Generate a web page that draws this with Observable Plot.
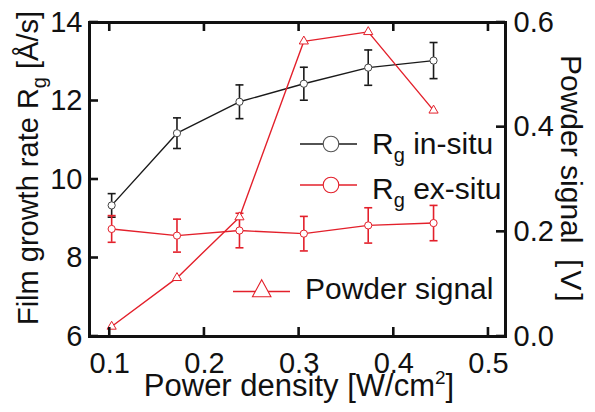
<!DOCTYPE html>
<html>
<head>
<meta charset="utf-8">
<script src="https://cdn.jsdelivr.net/npm/d3@7"></script>
<script src="https://cdn.jsdelivr.net/npm/@observablehq/plot@0.6"></script>
<style>
  body { margin: 0; background: #fff; }
  #chart { width: 595px; height: 412px; position: relative; }
  svg { font-family: "Liberation Sans", Arial, sans-serif; }
</style>
</head>
<body>
<div id="chart"></div>
<script>
// ---- data ----
const powerDensity = [0.102, 0.171, 0.237, 0.305, 0.373, 0.442];
const rgInSitu     = [9.34, 11.18, 11.98, 12.44, 12.85, 13.03];
const rgInSituErr  = [0.30, 0.39, 0.43, 0.42, 0.45, 0.46];
const rgExSitu     = [8.74, 8.57, 8.70, 8.62, 8.83, 8.89];
const rgExSituErr  = [0.34, 0.42, 0.44, 0.44, 0.45, 0.45];
const powderSignal = [0.019, 0.112, 0.228, 0.564, 0.582, 0.432];

const xTicks      = [0.1, 0.2, 0.3, 0.4, 0.5];
const yLeftTicks  = [6, 8, 10, 12, 14];
const yRightTicks = [0.0, 0.2, 0.4, 0.6];
const xDomain = [0.0786, 0.518];
const yLeftDomain = [6, 14];
const yRightDomain = [0, 0.6];

const RED = "#e3202b";
const BLACK = "#1a1a1a";

// map right-axis values onto the left scale
const toLeft = v => yLeftDomain[0] + (v - yRightDomain[0]) * (yLeftDomain[1] - yLeftDomain[0]) / (yRightDomain[1] - yRightDomain[0]);
const fromLeft = v => yRightDomain[0] + (v - yLeftDomain[0]) * (yRightDomain[1] - yRightDomain[0]) / (yLeftDomain[1] - yLeftDomain[0]);

const inSitu = powerDensity.map((x, i) => ({x, y: rgInSitu[i], e: rgInSituErr[i]}));
const exSitu = powerDensity.map((x, i) => ({x, y: rgExSitu[i], e: rgExSituErr[i]}));
const powder = powerDensity.map((x, i) => ({x, y: toLeft(powderSignal[i])}));

const capSymbol = {
  draw(context, size) {
    const w = Math.sqrt(size / Math.PI);
    context.moveTo(-w, 0);
    context.lineTo(w, 0);
  }
};
const caps = rows => rows.flatMap(d => [{x: d.x, y: d.y - d.e}, {x: d.x, y: d.y + d.e}]);

const W = 595, H = 412;
const M = {left: 89, right: 90, top: 22, bottom: 76};
const TICK = 9;
const fontSize = 29;

const chart = Plot.plot({
  width: W,
  height: H,
  marginLeft: M.left,
  marginRight: M.right,
  marginTop: M.top,
  marginBottom: M.bottom,
  style: {fontFamily: '"Liberation Sans", Arial, sans-serif', fontSize: fontSize + "px", color: "#111", background: "#fff"},
  x: {domain: xDomain},
  y: {domain: yLeftDomain},
  marks: [
    Plot.frame({stroke: "#111", strokeWidth: 3, fill: "none"}),
    // tick labels
    Plot.axisX(xTicks, {anchor: "bottom", tickSize: 0, tickPadding: 16, label: null, tickFormat: d => d.toFixed(1), fontSize}),
    Plot.axisY(yLeftTicks, {anchor: "left", tickSize: 0, tickPadding: 7, label: null, tickFormat: d => String(d), fontSize}),
    Plot.axisY(yRightTicks.map(toLeft), {anchor: "right", tickSize: 0, tickPadding: 8, label: null, tickFormat: v => fromLeft(v).toFixed(1), fontSize}),

    // in-situ growth rate
    Plot.ruleX(inSitu, {x: "x", y1: d => d.y - d.e, y2: d => d.y + d.e, stroke: BLACK, strokeWidth: 1.6}),
    Plot.dot(caps(inSitu), {x: "x", y: "y", symbol: capSymbol, r: 4, stroke: BLACK, fill: "none", strokeWidth: 1.6}),
    Plot.line(inSitu, {x: "x", y: "y", stroke: BLACK, strokeWidth: 1.4}),
    Plot.dot(inSitu, {x: "x", y: "y", r: 3.6, fill: "white", stroke: "#444", strokeWidth: 1}),

    // ex-situ growth rate
    Plot.ruleX(exSitu, {x: "x", y1: d => d.y - d.e, y2: d => d.y + d.e, stroke: RED, strokeWidth: 1.6}),
    Plot.dot(caps(exSitu), {x: "x", y: "y", symbol: capSymbol, r: 4, stroke: RED, fill: "none", strokeWidth: 1.6}),
    Plot.line(exSitu, {x: "x", y: "y", stroke: RED, strokeWidth: 1.4}),
    Plot.dot(exSitu, {x: "x", y: "y", r: 3.6, fill: "white", stroke: RED, strokeWidth: 1}),

    // powder signal (right axis)
    Plot.line(powder, {x: "x", y: "y", stroke: RED, strokeWidth: 1.4}),
    Plot.dot(powder, {x: "x", y: "y", symbol: "triangle", r: 3.4, fill: "white", stroke: RED, strokeWidth: 1})
  ]
});

document.getElementById("chart").appendChild(chart);

const svg = d3.select(chart);
const font = '"Liberation Sans", Arial, sans-serif';

// ---- inward tick marks, positioned with Plot's own scales ----
const sx = chart.scale("x"), sy = chart.scale("y");
const px = v => sx.apply(v), py = v => sy.apply(v);
const frameL = M.left, frameR = W - M.right, frameT = M.top, frameB = H - M.bottom;
const tickG = svg.append("g").attr("stroke", "#111").attr("stroke-width", 2.6);
for (const v of xTicks) {
  tickG.append("line").attr("x1", px(v)).attr("x2", px(v)).attr("y1", frameB).attr("y2", frameB - TICK);
  tickG.append("line").attr("x1", px(v)).attr("x2", px(v)).attr("y1", frameT).attr("y2", frameT + TICK);
}
for (const v of yLeftTicks) {
  tickG.append("line").attr("y1", py(v)).attr("y2", py(v)).attr("x1", frameL).attr("x2", frameL + TICK);
}
for (const v of yRightTicks) {
  tickG.append("line").attr("y1", py(toLeft(v))).attr("y2", py(toLeft(v))).attr("x1", frameR).attr("x2", frameR - TICK);
}

// x title
const xt = svg.append("text")
  .attr("x", 299).attr("y", 396)
  .attr("text-anchor", "middle")
  .attr("font-family", font).attr("font-size", 31).attr("fill", "#111");
xt.append("tspan").text("Power density [W/cm");
xt.append("tspan").attr("font-size", 19).attr("dy", -12).text("2");
xt.append("tspan").attr("dy", 12).text("]");

// left y title
const yt = svg.append("text")
  .attr("transform", "translate(38,168) rotate(-90)")
  .attr("text-anchor", "middle")
  .attr("font-family", font).attr("font-size", 29).attr("fill", "#111");
yt.append("tspan").text("Film growth rate R");
yt.append("tspan").attr("font-size", 20).attr("dy", 8).text("g");
yt.append("tspan").attr("dy", -8).text(" [Å/s]");

// right y title
svg.append("text")
  .attr("transform", "translate(561,55) rotate(90)")
  .attr("text-anchor", "start")
  .attr("font-family", font).attr("font-size", 30).attr("fill", "#111")
  .text("Powder signal");
svg.append("text")
  .attr("transform", "translate(561,259) rotate(90)")
  .attr("text-anchor", "start")
  .attr("font-family", font).attr("font-size", 30).attr("fill", "#111")
  .attr("letter-spacing", 3)
  .text("[V]");

// legend
const legend = svg.append("g").attr("text-anchor", "start");
const legendItems = [
  {lineY: 144, x1: 300, x2: 357, mx: 331, color: BLACK, mStroke: "#555", marker: "circle", textY: 154, label: ["R", "g", " in-situ"]},
  {lineY: 185, x1: 300, x2: 357, mx: 331, color: RED, mStroke: RED, marker: "circle", textY: 199, label: ["R", "g", " ex-situ"]},
  {lineY: 291.5, x1: 233, x2: 290, mx: 261.7, color: RED, mStroke: RED, marker: "triangle", textY: 299, label: ["Powder signal"]}
];
for (const it of legendItems) {
  legend.append("line")
    .attr("x1", it.x1).attr("x2", it.x2).attr("y1", it.lineY).attr("y2", it.lineY)
    .attr("stroke", it.color).attr("stroke-width", 1.4);
  if (it.marker === "circle") {
    legend.append("circle").attr("cx", it.mx).attr("cy", it.lineY).attr("r", 7.8)
      .attr("fill", "white").attr("stroke", it.mStroke).attr("stroke-width", 1.1);
  } else {
    const h = 17, w = 18.5, base = it.lineY + 5.2;
    legend.append("path")
      .attr("d", `M${it.mx},${base - h}L${it.mx + w / 2},${base}L${it.mx - w / 2},${base}Z`)
      .attr("fill", "white").attr("stroke", it.mStroke).attr("stroke-width", 1.1);
  }
  const t = legend.append("text")
    .attr("x", it.marker === "circle" ? 372 : 305).attr("y", it.textY)
    .attr("text-anchor", "start")
    .attr("font-family", font).attr("font-size", 30).attr("fill", "#111");
  if (it.label.length === 3) {
    t.append("tspan").text(it.label[0]);
    t.append("tspan").attr("font-size", 20).attr("dy", 8).text(it.label[1]);
    t.append("tspan").attr("dy", -8).text(it.label[2]);
  } else {
    t.text(it.label[0]);
  }
}
</script>
</body>
</html>
